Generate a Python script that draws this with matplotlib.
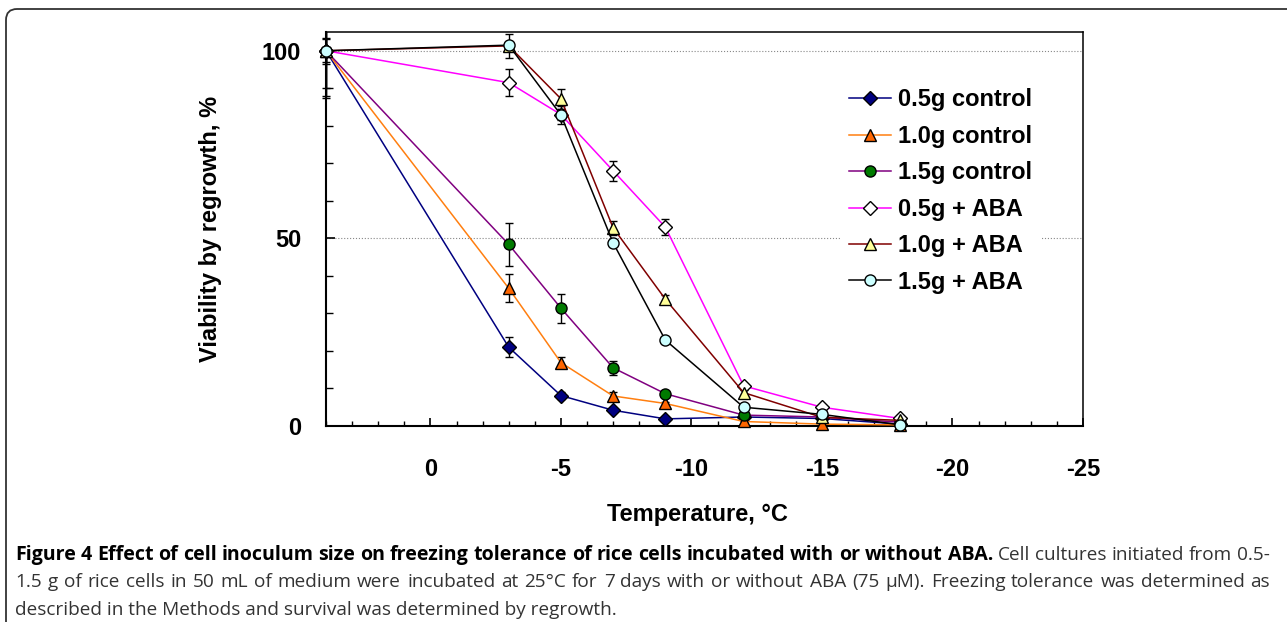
import matplotlib
matplotlib.use("Agg")
import matplotlib.pyplot as plt
import matplotlib.patches as mpatches
from matplotlib.transforms import IdentityTransform
from matplotlib.ticker import MultipleLocator, FixedLocator

plt.rcParams["axes.unicode_minus"] = False

# temperatures (deg C) and viability (%)
temps = [4, -3, -5, -7, -9, -12, -15, -18]

c05 = [100, 21.0, 8.1, 4.2, 1.9, 2.4, 2.0, 0.5]
c05_err = [10, 2.7, 1.0, 0.5, 0.4, 0.3, 0.3, 0.2]
c10 = [100, 36.7, 16.9, 8.0, 6.0, 1.2, 0.5, 0.3]
c10_err = [12, 3.7, 1.5, 1.0, 0.5, 0.3, 0.3, 0.2]
c15 = [100, 48.4, 31.4, 15.5, 8.6, 2.9, 2.4, 1.0]
c15_err = [12.5, 5.8, 3.9, 1.8, 0.8, 0.5, 0.3, 0.3]
a05 = [100, 91.5, 83.0, 68.0, 53.0, 10.7, 5.0, 2.0]
a05_err = [3.5, 3.6, 1.5, 2.7, 2.2, 0.6, 0.5, 0.3]
a10 = [100, 101.3, 87.2, 52.8, 33.8, 8.9, 2.3, 1.5]
a10_err = [3.1, 3.1, 2.7, 1.8, 1.2, 0.6, 0.4, 0.3]
a15 = [100, 101.5, 82.9, 48.8, 22.9, 5.0, 3.1, 0.3]
a15_err = [0.5, 0.5, 2.5, 0.8, 0.7, 0.5, 0.4, 0.2]

labels = ["0.5g control", "1.0g control", "1.5g control",
          "0.5g + ABA", "1.0g + ABA", "1.5g + ABA"]
series = [c05, c10, c15, a05, a10, a15]
errors = [c05_err, c10_err, c15_err, a05_err, a10_err, a15_err]

# line colour, marker, marker fill
styles = [
    ("#000080", "D", "#000080"),
    ("#FF7F10", "^", "#FF6600"),
    ("#800080", "o", "#007A00"),
    ("#FF00FF", "D", "#FFFFFF"),
    ("#800000", "^", "#FFFF99"),
    ("#000000", "o", "#CCFFFF"),
]

cap_bold = "Figure 4 Effect of cell inoculum size on freezing tolerance of rice cells incubated with or without ABA."
cap_line1 = "Cell cultures initiated from 0.5-"
cap_line2 = ("1.5 g of rice cells in 50 mL of medium were incubated at 25\u00b0C for 7 days "
             "with or without ABA (75 \u03bcM). Freezing tolerance was determined as")
cap_line3 = "described in the Methods and survival was determined by regrowth."

W, H = 1287, 622
fig = plt.figure(figsize=(W / 100, H / 100), dpi=100)
ax = fig.add_axes([326 / W, 1 - 426 / H, (1083 - 326) / W, (426 - 32) / H])

chart_font = "Liberation Sans"

# y-only clip region so error caps on the left axis stay visible
clip_rect = mpatches.Rectangle((-0.05, 0), 1.1, 1, transform=ax.transAxes,
                               fill=False, visible=False)
ax.add_patch(clip_rect)

for i, (vals, errs) in enumerate(zip(series, errors)):
    color, marker, fill = styles[i]
    eb = ax.errorbar(temps, vals, yerr=errs, fmt="none", ecolor="black",
                     elinewidth=1.0, capsize=3, capthick=1.0, zorder=3 + i * 0.1)
    for art in list(eb[1]) + list(eb[2]):
        art.set_clip_path(clip_rect)
    ax.plot(temps, vals, color=color, lw=1.1, marker=marker, ms=8 if marker != "D" else 7,
            mfc=fill, mec="black", mew=1.0, label=labels[i], clip_on=False,
            zorder=4 + i * 0.1)

ax.set_xlim(4, -25)
ax.set_ylim(0, 105)
ax.xaxis.set_major_locator(FixedLocator([0, -5, -10, -15, -20, -25]))
ax.xaxis.set_minor_locator(FixedLocator(list(range(4, -26, -1))))
ax.yaxis.set_major_locator(FixedLocator([0, 50, 100]))
ax.yaxis.set_minor_locator(MultipleLocator(10))

ax.grid(axis="y", which="major", color="#888888", ls=":", lw=0.8)
ax.set_axisbelow(True)

ax.tick_params(axis="x", which="major", direction="in", length=6, width=1.2, pad=23)
ax.tick_params(axis="x", which="minor", direction="in", length=3.8, width=1.0)
ax.tick_params(axis="y", which="major", direction="in", length=6.5, width=1.2, pad=18)
ax.tick_params(axis="y", which="minor", direction="in", length=5, width=1.0)

for lab in ax.get_xticklabels() + ax.get_yticklabels():
    lab.set_fontfamily(chart_font)
    lab.set_fontweight("bold")
    lab.set_fontsize(17)

for side in ["left", "bottom"]:
    ax.spines[side].set_linewidth(1.5)
for side in ["top", "right"]:
    ax.spines[side].set_linewidth(1.1)

ax.set_xlabel("Temperature, \u00b0C", fontfamily=chart_font, fontweight="bold", fontsize=17)
ax.xaxis.set_label_coords(0.491, -0.195)
ax.set_ylabel("Viability by regrowth, %", fontfamily=chart_font, fontweight="bold", fontsize=17)
ax.yaxis.set_label_coords(-0.137, 0.5)

leg = ax.legend(loc="upper left", bbox_to_anchor=(840 / W, 1 - 79 / H),
                bbox_transform=fig.transFigure, borderaxespad=0, borderpad=0.4,
                handlelength=1.75, handletextpad=0.3, labelspacing=0.57,
                prop={"family": chart_font, "weight": "bold", "size": 17},
                frameon=True, facecolor="white", edgecolor="none", framealpha=1,
                fancybox=False)
leg.set_zorder(2.5)

# rounded outer frame (only top and left show)
frame = mpatches.FancyBboxPatch((6, -30), 1320, H - 9 + 30,
                                boxstyle="round,pad=0,rounding_size=11",
                                transform=IdentityTransform(), fill=False,
                                edgecolor="#333333", lw=1.3)
fig.patches.append(frame)

# caption, justified like the journal layout
cap_font = "Open Sans"
bold_size = 14.1
reg_size = 13.7
renderer = fig.canvas.get_renderer()


def justify(words, baseline, x0=15, x1=1270):
    # words: list of (text, bold) ; spread them evenly between x0 and x1
    arts = []
    for w, bold in words:
        t = fig.text(0, 1 - baseline / H, w, fontfamily=cap_font,
                     fontweight="bold" if bold else "normal",
                     fontsize=bold_size if bold else reg_size, va="baseline",
                     color="black" if bold else "#333333")
        arts.append(t)
    widths = [a.get_window_extent(renderer).width for a in arts]
    gap = (x1 - x0 - sum(widths)) / (len(arts) - 1)
    x = x0
    for a, wd in zip(arts, widths):
        a.set_x(x / W)
        x += wd + gap


justify([(w, True) for w in cap_bold.split()] + [(w, False) for w in cap_line1.split()], 560)
justify([(w, False) for w in cap_line2.split()], 587)
fig.text(15 / W, 1 - 615 / H, cap_line3, fontfamily=cap_font, fontsize=reg_size,
         va="baseline", color="#333333")

fig.savefig("out.png", dpi=100)
